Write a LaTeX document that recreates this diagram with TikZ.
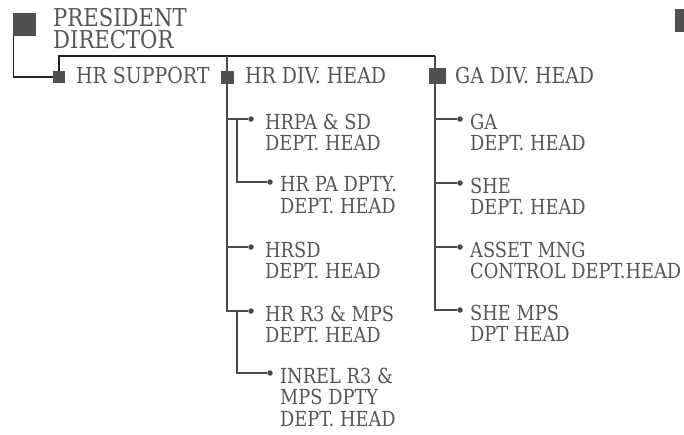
\documentclass[tikz,border=0pt]{standalone}
\usepackage{fontspec}
\setmainfont[FakeStretch=0.86]{DejaVu Serif}
\definecolor{txt}{HTML}{555555}
\definecolor{sqc}{HTML}{505050}
\definecolor{linec}{HTML}{4A4A4A}
\definecolor{busc}{HTML}{222222}
\begin{document}
\begin{tikzpicture}[x=1pt,y=-1pt,
  sq/.style={fill=sqc, draw=none, minimum size=#1, inner sep=0pt, outer sep=0pt},
  dotn/.style={circle, fill=linec, draw=none, inner sep=0pt, outer sep=0pt, minimum size=5.5pt},
  tA/.style={anchor=north west, inner sep=0pt, text=txt, align=left, font=\fontsize{24.6}{22}\selectfont},
  tB/.style={anchor=north west, inner sep=0pt, text=txt, align=left, font=\fontsize{22}{22}\selectfont},
  tC/.style={anchor=north west, inner sep=0pt, text=txt, align=left, font=\fontsize{20.7}{21.5}\selectfont},
  ln/.style={draw=linec, line width=1.2pt},
  busln/.style={draw=busc, line width=1.2pt},
]
\useasboundingbox (0,0) rectangle (684,434);
% squares
\node[sq=23] (pres) at (24,24.5) {};
\node[sq=12] (hrs) at (59,77) {};
\node[sq=13] (hrd) at (227,77.5) {};
\node[sq=16, minimum width=17pt] (gad) at (437.5,76) {};
\fill[sqc] (675,9) rectangle (684,32);
% top-level texts
\node[tA] (prest) at (53,8) {PRESIDENT\\DIRECTOR};
\node[tB] (hrst) at (76,67.2) {HR SUPPORT};
\node[tB] (hrdt) at (245,67.2) {HR DIV. HEAD};
\node[tB] (gadt) at (455,67.2) {GA DIV. HEAD};
% coordinates
\coordinate (bus) at (59,56);
\coordinate (busend) at (435,56);
\coordinate (subx) at (237,0);
% HR dots and texts
\node[dotn] (dpa) at (251,119) {};
\node[tC] (tpa) at (265,113.5) {HRPA \& SD\\DEPT. HEAD};
\node[dotn] (dpady) at (270,182) {};
\node[tC] (tpady) at (280,176.5) {HR PA DPTY.\\DEPT. HEAD};
\node[dotn] (dsd) at (251,247) {};
\node[tC] (tsd) at (265,241.5) {HRSD\\DEPT. HEAD};
\node[dotn] (dr3) at (251,311) {};
\node[tC] (tr3) at (265,305.5) {HR R3 \& MPS\\DEPT. HEAD};
\node[dotn] (dinrel) at (270,373) {};
\node[tC] (tinrel) at (280,367.5) {INREL R3 \&\\MPS DPTY\\DEPT. HEAD};
% GA dots and texts
\node[dotn] (dga) at (460,119) {};
\node[tC] (tga) at (470,113.5) {GA\\DEPT. HEAD};
\node[dotn] (dshe) at (460,183) {};
\node[tC] (tshe) at (470,177.5) {SHE\\DEPT. HEAD};
\node[dotn] (dasset) at (460,247) {};
\node[tC] (tasset) at (470,241.5) {ASSET MNG\\CONTROL DEPT.HEAD};
\node[dotn] (dshemps) at (460,310) {};
\node[tC] (tshemps) at (470,304.5) {SHE MPS\\DPT HEAD};
% connectors
\draw[busln] ([xshift=0.6pt]pres.south west) |- (hrs.west);
\draw[busln] (hrs.north) -- (bus) -- (busend);
\draw[ln] (busend) -- (gad.north -| busend);
\draw[ln] (gad.south -| busend) |- (dshemps);
\draw[ln] (busend |- dga) -- (dga);
\draw[ln] (busend |- dshe) -- (dshe);
\draw[ln] (busend |- dasset) -- (dasset);
\draw[ln] (hrd.north |- bus) -- (hrd.north);
\draw[ln] (hrd.south) |- (dr3);
\draw[ln] (hrd.center |- dpa) -- (dpa);
\draw[ln] (hrd.center |- dsd) -- (dsd);
\draw[ln] (subx |- dpa) |- (dpady);
\draw[ln] (subx |- dr3) |- (dinrel);
\end{tikzpicture}
\end{document}
